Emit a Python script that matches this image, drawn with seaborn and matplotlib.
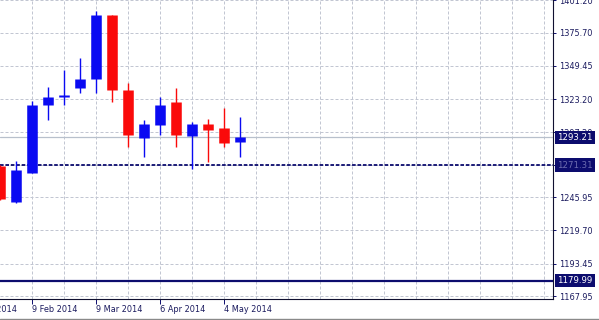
import matplotlib
matplotlib.use("Agg")
import matplotlib.pyplot as plt
import matplotlib.transforms as mtransforms
from matplotlib.lines import Line2D
import numpy as np
import pandas as pd
import seaborn as sns

# ---- data (weekly candles) ----
week_index = list(range(16))
opens  = [1270.8, 1242.4, 1265.2, 1318.7, 1325.0, 1331.8, 1339.2, 1389.7,
          1330.5, 1292.4, 1302.9, 1321.3, 1294.2, 1303.7, 1300.7, 1289.7]
highs  = [1271.5, 1274.5, 1321.8, 1333.1, 1346.3, 1355.5, 1392.8, 1390.0,
          1335.8, 1306.8, 1325.2, 1332.3, 1305.0, 1307.4, 1316.5, 1309.4]
lows   = [1243.5, 1241.1, 1264.8, 1306.8, 1318.7, 1327.9, 1327.9, 1320.8,
          1285.8, 1277.9, 1295.0, 1285.8, 1268.2, 1273.9, 1285.3, 1277.9]
closes = [1244.3, 1267.4, 1318.4, 1325.2, 1326.3, 1339.2, 1389.7, 1330.5,
          1295.0, 1303.7, 1318.7, 1295.0, 1303.7, 1298.9, 1288.9, 1293.2]

date_tick_pos = [2, 6, 10, 14]
date_tick_labels = ["9 Feb 2014", "9 Mar 2014", "6 Apr 2014", "4 May 2014"]
cut_label_pos = -2
cut_label = "12 Jan 2014"

price_ticks = [1167.95, 1193.45, 1219.70, 1245.95, 1271.45, 1297.20,
               1323.20, 1349.45, 1375.70, 1401.20]
price_tick_labels = ["1167.95", "1193.45", "1219.70", "1245.95", "", "1297.20",
                     "1323.20", "1349.45", "1375.70", "1401.20"]

bid_line = 1293.21
level_dotted = 1271.31
level_solid = 1179.99

# ---- style ----
sns.set_style("white")
plt.rcParams["font.family"] = ["DejaVu Sans"]

BLUE = "#0a0af2"
RED = "#fa0a0a"
NAVY = "#0c0c6e"
TXT = "#1a1a5e"
GRID = "#c2c6d2"

fig = plt.figure(figsize=(5.99, 3.20), dpi=100)
ax = fig.add_axes([0, 21 / 320, 553 / 599, 299 / 320])
ax.set_facecolor("white")

# long-form frames
direction = ["up" if c >= o else "down" for o, c in zip(opens, closes)]
wick_rows, body_rows = [], []
for i, o, h, l, c, d in zip(week_index, opens, highs, lows, closes, direction):
    wick_rows += [dict(x=i, y=l, unit=i, dir=d), dict(x=i, y=h, unit=i, dir=d)]
    body_rows += [dict(x=i, y=min(o, c), unit=i, dir=d), dict(x=i, y=max(o, c), unit=i, dir=d)]
wicks = pd.DataFrame(wick_rows)
bodies = pd.DataFrame(body_rows)
pal = {"up": BLUE, "down": RED}

sns.lineplot(data=wicks, x="x", y="y", units="unit", hue="dir", palette=pal,
             estimator=None, lw=1.0, legend=False, ax=ax, zorder=4,
             solid_capstyle="butt")
sns.lineplot(data=bodies, x="x", y="y", units="unit", hue="dir", palette=pal,
             estimator=None, lw=7.6, legend=False, ax=ax, zorder=5,
             solid_capstyle="butt")

# horizontal levels
ax.axhline(bid_line, color="#b8c0cc", lw=0.9, zorder=3)
ax.axhline(level_dotted, color=NAVY, lw=1.3, ls=(0, (2, 1)), zorder=3)
ax.axhline(level_solid, color=NAVY, lw=1.6, zorder=3)

# axes limits
ax.set_xlim(0.0, 553 / 16)
ax.set_ylim(1165.6, 1401.5)

# x ticks / grid
ax.set_xticks(date_tick_pos)
ax.set_xticklabels(date_tick_labels)
ax.set_xticks(list(range(2, 35, 2)), minor=True)
for lab in ax.get_xticklabels():
    lab.set_ha("left")
ax.tick_params(axis="x", which="major", direction="out", length=3.5, width=0.7,
               color=NAVY, pad=1.0, labelsize=5.9, labelcolor=TXT, bottom=True)
ax.tick_params(axis="x", which="minor", length=0)

# y ticks on right
ax.yaxis.tick_right()
ax.set_yticks(price_ticks)
ax.set_yticklabels(price_tick_labels)
ax.tick_params(axis="y", direction="out", length=2.5, width=0.7, color=NAVY,
               pad=2.0, labelsize=5.9, labelcolor=TXT, left=False, right=True)

ax.grid(which="both", axis="x", color=GRID, lw=0.72, ls=(0, (3, 2)), zorder=0)
ax.grid(which="major", axis="y", color=GRID, lw=0.72, ls=(0, (3, 2)), zorder=0)
ax.set_axisbelow(True)

for side in ["left", "top"]:
    ax.spines[side].set_visible(False)
for side in ["right", "bottom"]:
    ax.spines[side].set_visible(True)
    ax.spines[side].set_color("#101030")
    ax.spines[side].set_linewidth(0.8)

ax.set_xlabel("")
ax.set_ylabel("")

# partially cut date label at the left edge
ax.annotate(cut_label, xy=(cut_label_pos, 0), xycoords=("data", "axes fraction"),
            xytext=(0.3, -4.5), textcoords="offset points", ha="left", va="top",
            fontsize=5.9, color=TXT, annotation_clip=False)

# price boxes on the right scale
trans = mtransforms.blended_transform_factory(ax.transAxes, ax.transData)
trans = mtransforms.offset_copy(trans, fig=fig, x=4.5, y=0, units="dots")
for val, txtcol in [(bid_line, "white"), (level_dotted, "#6c6cb0"), (level_solid, "white")]:
    ax.text(1.0, val, f"{val:.2f}", transform=trans, ha="left", va="center",
            fontsize=6.2, color=txtcol, clip_on=False, zorder=20,
            bbox=dict(boxstyle="square,pad=0.25", fc=NAVY, ec="none"))

# window bottom border
fig.add_artist(Line2D([0, 1], [1.5 / 320, 1.5 / 320], transform=fig.transFigure,
                      color="#8a8a8a", lw=1.0))

fig.savefig("out.png", dpi=100, facecolor="white")
